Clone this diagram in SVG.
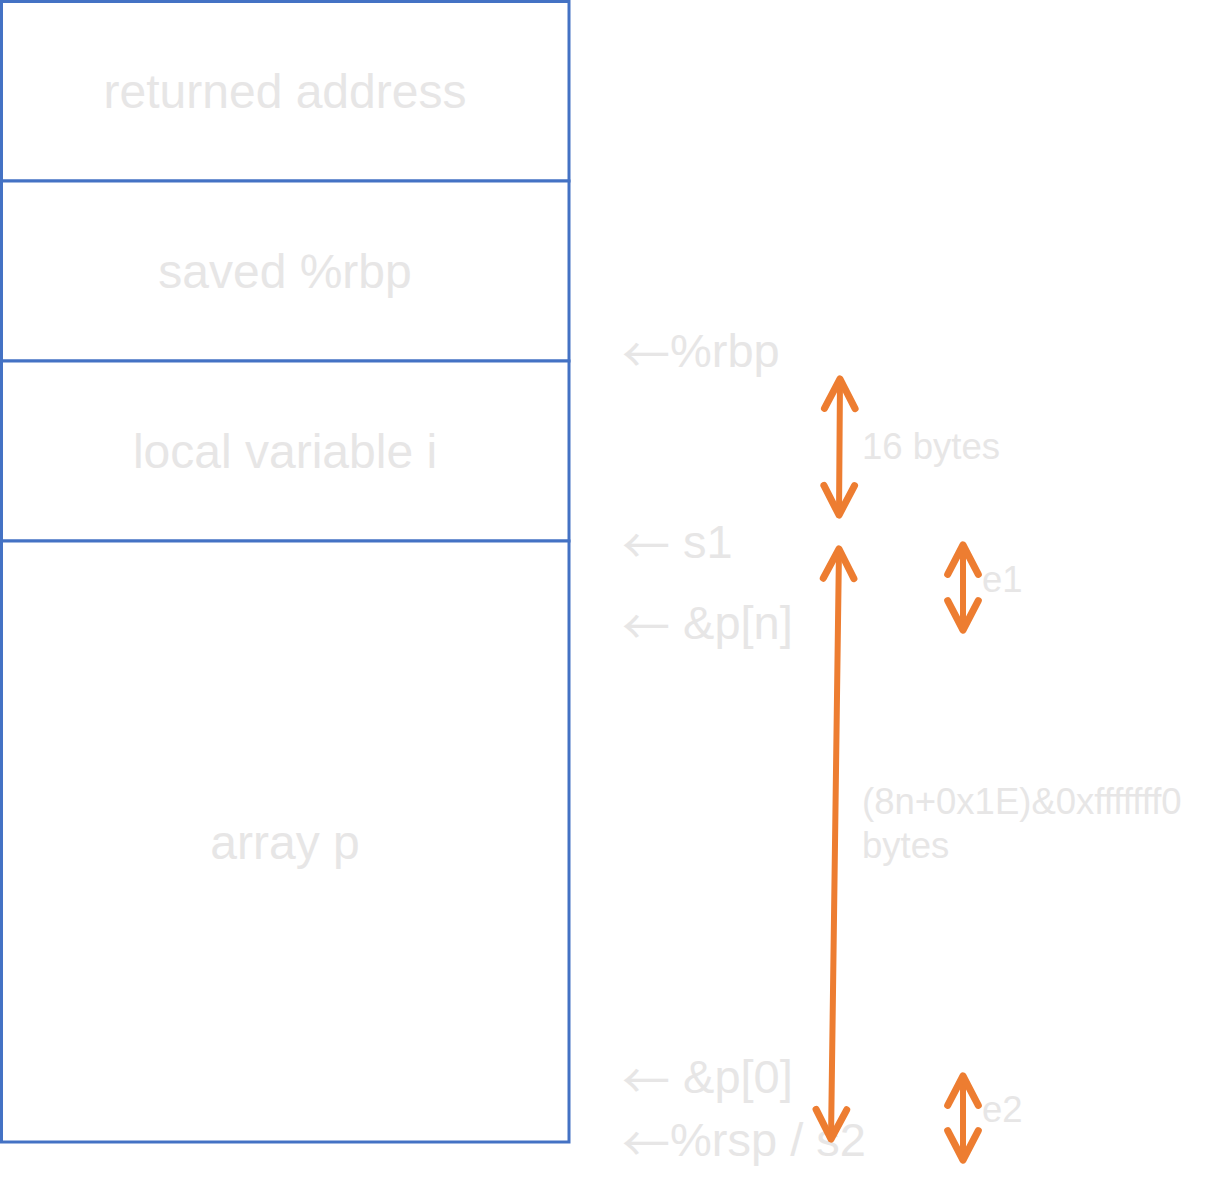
<svg xmlns="http://www.w3.org/2000/svg" width="1225" height="1178" viewBox="0 0 1225 1178">
<style>
.cell{fill:#FFFFFF;stroke:#4472C4;stroke-width:3}
.big{font-family:"Liberation Sans",Arial,sans-serif;font-size:48px;fill:#E7E6E6}
.ptr{font-family:"Liberation Sans",Arial,sans-serif;font-size:47px;fill:#E7E6E6}
.ar{font-family:"Noto Sans CJK SC","DejaVu Sans",sans-serif;font-size:48px}
.lbl{font-family:"Liberation Sans",Arial,sans-serif;font-size:36.5px;fill:#E7E6E6}
.arr{stroke:#ED7D31;stroke-width:6;fill:none;stroke-linecap:round;marker-start:url(#head);marker-end:url(#head)}
</style>
<defs>
<marker id="head" markerUnits="userSpaceOnUse" markerWidth="40" markerHeight="40" refX="0" refY="0" viewBox="-30 -16 34 32" orient="auto-start-reverse" overflow="visible">
<path d="M -25 -13 L 0 0 L -25 13" fill="none" stroke="#ED7D31" stroke-width="6" stroke-linecap="round" stroke-linejoin="round"/>
</marker>
</defs>
<g id="cell-returned-address">
<rect class="cell" x="1.5" y="1.5" width="567.5" height="179.5"/>
<text class="big" x="285" y="108" text-anchor="middle">returned address</text>
</g>
<g id="cell-saved-rbp">
<rect class="cell" x="1.5" y="181" width="567.5" height="180"/>
<text class="big" x="285" y="288" text-anchor="middle">saved %rbp</text>
</g>
<g id="cell-local-i">
<rect class="cell" x="1.5" y="361" width="567.5" height="180"/>
<text class="big" x="285" y="468" text-anchor="middle">local variable i</text>
</g>
<g id="cell-array-p">
<rect class="cell" x="1.5" y="541" width="567.5" height="601"/>
<text class="big" x="285" y="859" text-anchor="middle">array p</text>
</g>
<g id="pointer-labels">
<text class="ptr" x="622" y="367"><tspan class="ar" dy="5">←</tspan><tspan dy="-5">%rbp</tspan></text>
<text class="ptr" x="622" y="558"><tspan class="ar" dy="5">←</tspan><tspan dy="-5"> s1</tspan></text>
<text class="ptr" x="622" y="639"><tspan class="ar" dy="5">←</tspan><tspan dy="-5"> &amp;p[n]</tspan></text>
<text class="ptr" x="622" y="1093"><tspan class="ar" dy="5">←</tspan><tspan dy="-5"> &amp;p[0]</tspan></text>
<text class="ptr" x="622" y="1156"><tspan class="ar" dy="5">←</tspan><tspan dy="-5">%rsp / s2</tspan></text>
</g>
<g id="connectors">
<path class="arr" d="M 840 379 L 839 515"/>
<path class="arr" d="M 839 549 L 831 1139"/>
<path class="arr" d="M 963 545 L 963 630"/>
<path class="arr" d="M 963 1076 L 963 1160"/>
</g>
<g id="size-labels">
<text class="lbl" x="862" y="459">16 bytes</text>
<text class="lbl" x="982" y="592">e1</text>
<text class="lbl" x="862" y="814">(8n+0x1E)&amp;0xfffffff0</text>
<text class="lbl" x="862" y="858">bytes</text>
<text class="lbl" x="982" y="1122">e2</text>
</g>
</svg>
